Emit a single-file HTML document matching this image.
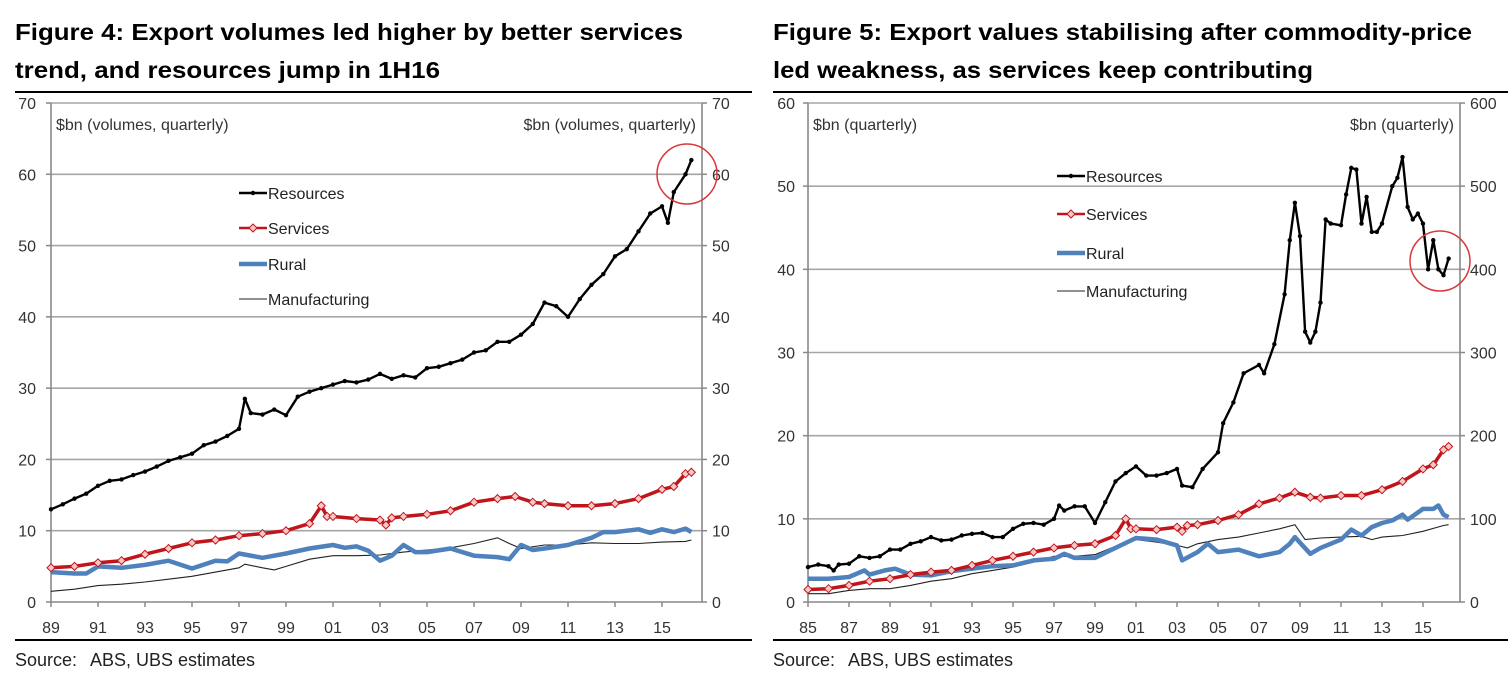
<!DOCTYPE html>
<html><head><meta charset="utf-8">
<style>
html,body{margin:0;padding:0;background:#fff;}
svg{display:block;font-family:"Liberation Sans",Arial,sans-serif;}
.title{font-weight:bold;font-size:23px;fill:#000;}
.tick{font-size:16px;fill:#333;}
.leg{font-size:16px;fill:#222;}
.src{font-size:18px;fill:#222;}
</style></head>
<body>
<svg id="svg" width="1508" height="683" viewBox="0 0 1508 683">
<text class="title" x="15" y="40" textLength="668" lengthAdjust="spacingAndGlyphs">Figure 4: Export volumes led higher by better services</text>
<text class="title" x="15" y="78" textLength="425" lengthAdjust="spacingAndGlyphs">trend, and resources jump in 1H16</text>
<text class="title" x="773" y="40" textLength="699" lengthAdjust="spacingAndGlyphs">Figure 5: Export values stabilising after commodity-price</text>
<text class="title" x="773" y="78" textLength="540" lengthAdjust="spacingAndGlyphs">led weakness, as services keep contributing</text>
<line x1="15" y1="92" x2="752" y2="92" stroke="#000" stroke-width="2"/>
<line x1="15" y1="640" x2="752" y2="640" stroke="#000" stroke-width="2"/>
<line x1="773" y1="92" x2="1508" y2="92" stroke="#000" stroke-width="2"/>
<line x1="773" y1="640" x2="1508" y2="640" stroke="#000" stroke-width="2"/>
<text class="src" x="15" y="666">Source:<tspan x="90">ABS, UBS estimates</tspan></text>
<text class="src" x="773" y="666">Source:<tspan x="848">ABS, UBS estimates</tspan></text>
<g id="c1"></g>
<g id="c2"></g>
</svg>
<script>
// ---- Figure 4 data ----
const f4Ticks = ["89","91","93","95","97","99","01","03","05","07","09","11","13","15"];
const f4YTicks = [0,10,20,30,40,50,60,70];
const f4ResX = [1989,1989.5,1990,1990.5,1991,1991.5,1992,1992.5,1993,1993.5,1994,1994.5,1995,1995.5,1996,1996.5,1997,1997.25,1997.5,1998,1998.5,1999,1999.5,2000,2000.5,2001,2001.5,2002,2002.5,2003,2003.5,2004,2004.5,2005,2005.5,2006,2006.5,2007,2007.5,2008,2008.5,2009,2009.5,2010,2010.5,2011,2011.5,2012,2012.5,2013,2013.5,2014,2014.5,2015,2015.25,2015.5,2016,2016.25];
const f4ResY = [13,13.7,14.5,15.2,16.3,17,17.2,17.8,18.3,19,19.8,20.3,20.8,22,22.5,23.3,24.3,28.5,26.5,26.3,27,26.2,28.8,29.5,30,30.5,31,30.8,31.2,32,31.3,31.8,31.5,32.8,33,33.5,34,35,35.3,36.5,36.5,37.5,39,42,41.5,40,42.5,44.5,46,48.5,49.5,52,54.5,55.5,53.2,57.5,60,62];
const f4SerX = [1989,1990,1991,1992,1993,1994,1995,1996,1997,1998,1999,2000,2000.5,2000.75,2001,2002,2003,2003.25,2003.5,2004,2005,2006,2007,2008,2008.75,2009.5,2010,2011,2012,2013,2014,2015,2015.5,2016,2016.25];
const f4SerY = [4.8,5,5.5,5.8,6.7,7.5,8.3,8.7,9.3,9.6,10,11,13.5,12,12,11.7,11.5,10.8,11.8,12,12.3,12.8,14,14.5,14.8,14,13.8,13.5,13.5,13.8,14.5,15.8,16.2,18,18.2];
const f4RurX = [1989,1990,1990.5,1991,1992,1993,1994,1995,1996,1996.5,1997,1998,1999,2000,2001,2001.5,2002,2002.5,2003,2003.5,2004,2004.5,2005,2006,2007,2008,2008.5,2009,2009.5,2010,2011,2012,2012.5,2013,2013.5,2014,2014.5,2015,2015.5,2016,2016.25];
const f4RurY = [4.2,4,4,5,4.8,5.2,5.8,4.7,5.8,5.7,6.8,6.2,6.8,7.5,8,7.6,7.8,7.2,5.8,6.5,8,7,7,7.5,6.5,6.3,6,8,7.3,7.5,8,9,9.8,9.8,10,10.2,9.7,10.2,9.8,10.3,9.8];
const f4ManX = [1989,1990,1991,1992,1993,1994,1995,1996,1997,1997.25,1998,1998.5,1999,2000,2001,2002,2003,2004,2005,2006,2007,2008,2008.5,2009,2010,2011,2012,2013,2014,2015,2016,2016.25];
const f4ManY = [1.5,1.8,2.3,2.5,2.8,3.2,3.6,4.2,4.8,5.3,4.8,4.5,5,6,6.5,6.5,6.6,7,7.3,7.6,8.2,9,8.2,7.5,8,8,8.3,8.2,8.2,8.4,8.5,8.7];
// ---- Figure 5 data ----
const f5Ticks = ["85","87","89","91","93","95","97","99","01","03","05","07","09","11","13","15"];
const f5YTicks = [0,10,20,30,40,50,60];
const f5RYTicks = ["0","100","200","300","400","500","600"];
const f5ResX = [1985,1985.5,1986,1986.25,1986.5,1987,1987.5,1988,1988.5,1989,1989.5,1990,1990.5,1991,1991.5,1992,1992.5,1993,1993.5,1994,1994.5,1995,1995.5,1996,1996.5,1997,1997.25,1997.5,1998,1998.5,1999,1999.5,2000,2000.5,2001,2001.5,2002,2002.5,2003,2003.25,2003.75,2004.25,2005,2005.25,2005.75,2006.25,2007,2007.25,2007.75,2008.25,2008.5,2008.75,2009,2009.25,2009.5,2009.75,2010,2010.25,2010.5,2011,2011.25,2011.5,2011.75,2012,2012.25,2012.5,2012.75,2013,2013.5,2013.75,2014,2014.25,2014.5,2014.75,2015,2015.25,2015.5,2015.75,2016,2016.25];
const f5ResY = [4.2,4.5,4.3,3.8,4.5,4.6,5.5,5.3,5.5,6.3,6.3,7,7.3,7.8,7.4,7.5,8,8.2,8.3,7.8,7.8,8.8,9.4,9.5,9.3,10,11.6,11,11.5,11.5,9.5,12,14.5,15.5,16.3,15.2,15.2,15.5,16,14,13.8,16,18,21.5,24,27.5,28.5,27.5,31,37,43.5,48,44,32.5,31.2,32.5,36,46,45.5,45.3,49,52.2,52,45.5,48.7,44.5,44.5,45.5,50,51,53.5,47.5,46,46.7,45.5,40,43.5,40,39.3,41.3];
const f5SerX = [1985,1986,1987,1988,1989,1990,1991,1992,1993,1994,1995,1996,1997,1998,1999,2000,2000.5,2000.75,2001,2002,2003,2003.25,2003.5,2004,2005,2006,2007,2008,2008.75,2009.5,2010,2011,2012,2013,2014,2015,2015.5,2016,2016.25];
const f5SerY = [1.5,1.6,2,2.5,2.8,3.3,3.6,3.8,4.4,5,5.5,6,6.5,6.8,7,8,10,8.8,8.8,8.7,9,8.5,9.2,9.3,9.8,10.5,11.8,12.5,13.2,12.6,12.5,12.8,12.8,13.5,14.5,16,16.5,18.3,18.7];
const f5RurX = [1985,1986,1987,1987.75,1988,1988.75,1989.25,1990,1991,1992,1993,1994,1995,1996,1997,1997.5,1998,1999,2000,2001,2002,2003,2003.25,2004,2004.5,2005,2006,2007,2008,2008.5,2008.75,2009.5,2010,2011,2011.5,2012,2012.5,2013,2013.5,2014,2014.25,2015,2015.5,2015.75,2016,2016.25];
const f5RurY = [2.8,2.8,3,3.8,3.3,3.8,4,3.3,3.2,3.7,4,4.3,4.4,5,5.2,5.8,5.3,5.3,6.5,7.7,7.5,6.8,5,6,7,6,6.3,5.5,6,7,7.8,5.8,6.5,7.5,8.7,8,9,9.5,9.8,10.5,9.9,11.2,11.2,11.6,10.5,10.2];
const f5ManX = [1985,1986,1987,1988,1989,1990,1991,1992,1993,1994,1995,1996,1997,1998,1999,2000,2001,2002,2003,2003.5,2004,2005,2006,2007,2008,2008.75,2009.25,2010,2011,2012,2012.5,2013,2014,2015,2016,2016.25];
const f5ManY = [1,1,1.4,1.6,1.6,2,2.5,2.8,3.4,3.8,4.2,4.8,5.5,5.5,5.7,6.7,7.5,7.2,6.8,6.5,7,7.5,7.8,8.3,8.8,9.3,7.5,7.7,7.8,7.9,7.5,7.8,8,8.5,9.2,9.3];

const NS = "http://www.w3.org/2000/svg";
function mk(parent, tag, attrs){
  const e = document.createElementNS(NS, tag);
  for (const k in attrs) e.setAttribute(k, attrs[k]);
  parent.appendChild(e);
  return e;
}
function drawChart(g, cfg){
  const xS = yr => cfg.x0 + (yr - cfg.yr0) * cfg.ppy;
  const yS = v => cfg.y0 - v * (cfg.y0 - cfg.yTop) / cfg.ymax;
  cfg.yTicks.forEach((v, i) => {
    if (v > 0) {
      const gl = mk(g, "line", {x1: cfg.x0, x2: cfg.xR, y1: yS(v), y2: yS(v), stroke: "#a6a6a6", "stroke-width": 1.6});
      
      
    }
    mk(g, "line", {x1: cfg.x0 - 5, x2: cfg.x0, y1: yS(v), y2: yS(v), stroke: "#888", "stroke-width": 1.5});
    mk(g, "line", {x1: cfg.xR, x2: cfg.xR + 5, y1: yS(v), y2: yS(v), stroke: "#888", "stroke-width": 1.5});
    const lt = mk(g, "text", {x: cfg.lLabX, y: yS(v) + 6, "text-anchor": "end", class: "tick"});
    lt.textContent = v;
    
    
    const rt = mk(g, "text", {x: cfg.xR + 10, y: yS(v) + 6, class: "tick"});
    rt.textContent = cfg.rLabels[i];
    
    
  });
  const al = mk(g, "line", {x1: cfg.x0, x2: cfg.x0, y1: cfg.yTop, y2: cfg.y0, stroke: "#888", "stroke-width": 1.6});
  
  
  const ar = mk(g, "line", {x1: cfg.xR, x2: cfg.xR, y1: cfg.yTop, y2: cfg.y0, stroke: "#888", "stroke-width": 1.6});
  
  
  const ab = mk(g, "line", {x1: cfg.x0, x2: cfg.xR, y1: cfg.y0, y2: cfg.y0, stroke: "#888", "stroke-width": 1.6});
  
  
  cfg.xTicks.forEach((lab, i) => {
    const yr = cfg.yr0 + 2 * i;
    mk(g, "line", {x1: xS(yr), x2: xS(yr), y1: cfg.y0, y2: cfg.y0 + 5, stroke: "#888", "stroke-width": 1.5});
    const t = mk(g, "text", {x: xS(yr), y: cfg.y0 + 31, "text-anchor": "middle", class: "tick"});
    t.textContent = lab;
    
    
  });
  const u1 = mk(g, "text", {x: cfg.x0 + 5, y: cfg.yTop + 27, class: "tick", "font-size": 15});
  u1.textContent = cfg.unit;
  
  
  const u2 = mk(g, "text", {x: cfg.xR - 6, y: cfg.yTop + 27, class: "tick", "text-anchor": "end"});
  u2.textContent = cfg.unit;
  
  
  const pts = (xs, ys) => xs.map((x, i) => xS(x).toFixed(1) + "," + yS(ys[i]).toFixed(1)).join(" ");
  const man = mk(g, "polyline", {points: pts(cfg.man[0], cfg.man[1]), fill: "none", stroke: "#222", "stroke-width": 1.1});
  
  
  const rur = mk(g, "polyline", {points: pts(cfg.rur[0], cfg.rur[1]), fill: "none", stroke: "#4f81bd", "stroke-width": 4.5, "stroke-linejoin": "round"});
  
  
  const ser = mk(g, "polyline", {points: pts(cfg.ser[0], cfg.ser[1]), fill: "none", stroke: "#c0161b", "stroke-width": 3.5, "stroke-linejoin": "round"});
  
  
  cfg.ser[0].forEach((x, i) => {
    const cx = xS(x), cy = yS(cfg.ser[1][i]);
    const d = mk(g, "polygon", {points: `${cx},${cy-4} ${cx+4},${cy} ${cx},${cy+4} ${cx-4},${cy}`, fill: "#f7c6c6", stroke: "#c0161b", "stroke-width": 1});
    
    
  });
  const res = mk(g, "polyline", {points: pts(cfg.res[0], cfg.res[1]), fill: "none", stroke: "#000", "stroke-width": 2.4, "stroke-linejoin": "round"});
  
  
  cfg.res[0].forEach((x, i) => {
    const c = mk(g, "circle", {cx: xS(x), cy: yS(cfg.res[1][i]), r: 2.2, fill: "#000"});
    
    
  });
  const names = ["Resources", "Services", "Rural", "Manufacturing"];
  names.forEach((n, i) => {
    const ly = cfg.legY[i];
    const lx = cfg.legX;
    const styles = [
      {stroke: "#000", "stroke-width": 2.4},
      {stroke: "#c0161b", "stroke-width": 2.5},
      {stroke: "#4f81bd", "stroke-width": 4.5},
      {stroke: "#222", "stroke-width": 1.1}
    ];
    const ln = mk(g, "line", Object.assign({x1: lx, x2: lx + 28, y1: ly, y2: ly}, styles[i]));
    
    
    if (i === 0) mk(g, "circle", {cx: lx + 14, cy: ly, r: 2.2, fill: "#000"});
    if (i === 1) mk(g, "polygon", {points: `${lx+14},${ly-4} ${lx+18},${ly} ${lx+14},${ly+4} ${lx+10},${ly}`, fill: "#f7c6c6", stroke: "#c0161b"});
    const t = mk(g, "text", {x: lx + 29, y: ly + 6, class: "leg"});
    t.textContent = n;
    
    
  });
  const circ = mk(g, "circle", {cx: cfg.circ[0], cy: cfg.circ[1], r: 30, fill: "none", stroke: "#d9383a", "stroke-width": 1.5});
  
  
}
drawChart(document.getElementById("c1"), {
  x0: 51, xR: 702, yr0: 1989, ppy: 23.5, y0: 602, yTop: 103, ymax: 70,
  yTicks: f4YTicks, rLabels: f4YTicks.map(String), xTicks: f4Ticks, lLabX: 36,
  unit: "$bn (volumes, quarterly)",
  res: [f4ResX, f4ResY], ser: [f4SerX, f4SerY], rur: [f4RurX, f4RurY], man: [f4ManX, f4ManY],
  legX: 239, legY: [193, 228, 264, 299], circ: [687, 174]
});
drawChart(document.getElementById("c2"), {
  x0: 808, xR: 1460, yr0: 1985, ppy: 20.5, y0: 602, yTop: 103, ymax: 60,
  yTicks: f5YTicks, rLabels: f5RYTicks, xTicks: f5Ticks, lLabX: 795,
  unit: "$bn (quarterly)",
  res: [f5ResX, f5ResY], ser: [f5SerX, f5SerY], rur: [f5RurX, f5RurY], man: [f5ManX, f5ManY],
  legX: 1057, legY: [176, 214, 253, 291], circ: [1440, 261]
});
</script>
</body></html>
